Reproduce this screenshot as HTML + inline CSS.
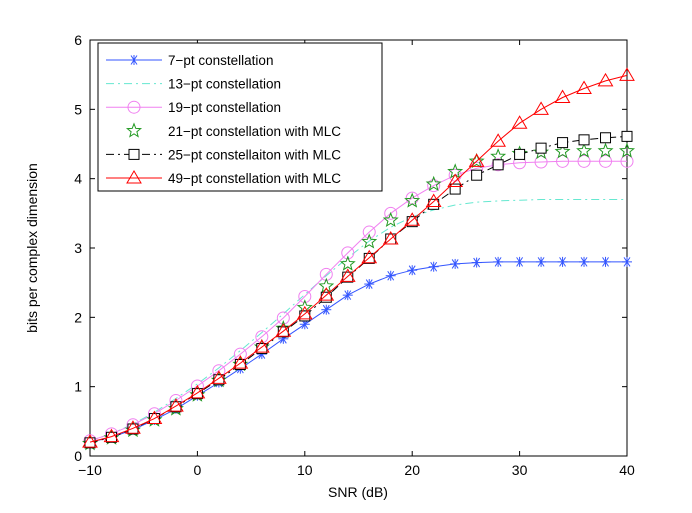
<!DOCTYPE html>
<html><head><meta charset="utf-8"><style>
html,body{margin:0;padding:0;background:#fff;}
svg{display:block;font-family:"Liberation Sans",Arial,sans-serif;}
</style></head><body>
<svg id="chart" width="692" height="513"></svg>
<script>
const snr=[-10,-8,-6,-4,-2,0,2,4,6,8,10,12,14,16,18,20,22,24,26,28,30,32,34,36,38,40];
const s7=[0.2,0.27,0.38,0.52,0.68,0.87,1.06,1.26,1.47,1.69,1.9,2.11,2.32,2.48,2.6,2.68,2.73,2.77,2.79,2.8,2.8,2.8,2.8,2.8,2.8,2.8];
const s13=[0.22,0.32,0.46,0.63,0.83,1.04,1.27,1.52,1.78,2.05,2.33,2.6,2.86,3.1,3.3,3.45,3.55,3.62,3.66,3.68,3.69,3.7,3.7,3.7,3.7,3.7];
const s19=[0.22,0.32,0.45,0.61,0.8,1.01,1.23,1.47,1.72,1.99,2.3,2.62,2.93,3.23,3.5,3.72,3.9,4.05,4.15,4.2,4.23,4.24,4.25,4.25,4.25,4.25];
const s21=[0.18,0.26,0.37,0.52,0.68,0.88,1.09,1.32,1.57,1.84,2.14,2.45,2.77,3.09,3.4,3.68,3.92,4.1,4.25,4.32,4.36,4.38,4.39,4.4,4.4,4.4];
const s25=[0.19,0.27,0.39,0.54,0.71,0.9,1.1,1.32,1.55,1.79,2.02,2.29,2.58,2.85,3.13,3.38,3.63,3.85,4.05,4.2,4.35,4.44,4.52,4.56,4.59,4.61];
const s49=[0.2,0.28,0.4,0.54,0.72,0.91,1.12,1.34,1.57,1.8,2.05,2.32,2.59,2.86,3.13,3.4,3.67,3.96,4.25,4.54,4.8,5.0,5.17,5.3,5.41,5.49];
const xTicks=[-10,0,10,20,30,40];
const yTicks=[0,1,2,3,4,5,6];
const legendLabels=["7\u2212pt constellation","13\u2212pt constellation","19\u2212pt constellation","21\u2212pt constellation with MLC","25\u2212pt constellaiton with MLC","49\u2212pt constellation with MLC"];

const NS="http://www.w3.org/2000/svg";
const svg=document.getElementById('chart');
const L=90,R=627,T=40,B=456;
const X=v=>L+(v+10)/50*(R-L);
const Y=v=>B-v/6*(B-T);
function mk(tag,attrs,parent){const e=document.createElementNS(NS,tag);for(const k in attrs)e.setAttribute(k,attrs[k]);(parent||svg).appendChild(e);return e;}

const frame=mk('rect',{x:L,y:T,width:R-L,height:B-T,fill:'#fff',stroke:'#000','stroke-width':1});



xTicks.forEach(t=>{
  const x=X(t);
  mk('line',{x1:x,y1:B,x2:x,y2:B-5,stroke:'#000'});
  mk('line',{x1:x,y1:T,x2:x,y2:T+5,stroke:'#000'});
  const tx=mk('text',{x:x,y:B+19,'text-anchor':'middle','font-size':14});
  tx.textContent=t<0?'\u2212'+(-t):t;
  
  
});
yTicks.forEach(t=>{
  const y=Y(t);
  mk('line',{x1:L,y1:y,x2:L+5,y2:y,stroke:'#000'});
  mk('line',{x1:R,y1:y,x2:R-5,y2:y,stroke:'#000'});
  const tx=mk('text',{x:L-8,y:y+5,'text-anchor':'end','font-size':14});
  tx.textContent=t;
  
  
});
const xl=mk('text',{x:358,y:497,'text-anchor':'middle','font-size':14});
xl.textContent='SNR (dB)';


const yl=mk('text',{x:0,y:0,'text-anchor':'middle','font-size':14,transform:'translate(37,248) rotate(-90)'});
yl.textContent='bits per complex dimension';



function marker(type,x,y,color,g){
  if(type==='star6'){
    mk('line',{x1:x-5,y1:y,x2:x+5,y2:y,stroke:color},g);
    mk('line',{x1:x-3,y1:y-4.5,x2:x+3,y2:y+4.5,stroke:color},g);
    mk('line',{x1:x-3,y1:y+4.5,x2:x+3,y2:y-4.5,stroke:color},g);
    mk('line',{x1:x,y1:y-5,x2:x,y2:y+5,stroke:color},g);
  }else if(type==='circle'){
    mk('circle',{cx:x,cy:y,r:6,fill:'none',stroke:color},g);
  }else if(type==='pentagram'){
    let p=[];for(let i=0;i<10;i++){const a=-Math.PI/2+i*Math.PI/5;const r=i%2?3:7;p.push((x+r*Math.cos(a)).toFixed(1)+','+(y+r*Math.sin(a)).toFixed(1));}
    mk('polygon',{points:p.join(' '),fill:'none',stroke:color},g);
  }else if(type==='square'){
    mk('rect',{x:x-5,y:y-5,width:10,height:10,fill:'#fff',stroke:color},g);
  }else if(type==='triangle'){
    mk('polygon',{points:`${x},${y-7} ${x-7},${y+5} ${x+7},${y+5}`,fill:'none',stroke:color},g);
  }
}
const series=[
  {d:s7,c:'#3355ff',m:'star6',dash:null,name:'series-7pt'},
  {d:s13,c:'#66e8d0',m:null,dash:'8,4,2,4',name:'series-13pt'},
  {d:s19,c:'#f080f0',m:'circle',dash:null,name:'series-19pt'},
  {d:s21,c:'#229922',m:'pentagram',dash:'none',name:'series-21pt'},
  {d:s25,c:'#000',m:'square',dash:'8,4,2,4',name:'series-25pt'},
  {d:s49,c:'#ff0000',m:'triangle',dash:null,name:'series-49pt'}
];
series.forEach(s=>{
  const g=mk('g',{});
  
  
  if(s.dash!=='none'){
    const pts=snr.map((v,i)=>X(v).toFixed(1)+','+Y(s.d[i]).toFixed(1)).join(' ');
    const a={points:pts,fill:'none',stroke:s.c,'stroke-width':1};
    if(s.dash)a['stroke-dasharray']=s.dash;
    mk('polyline',a,g);
  }
  if(s.m)snr.forEach((v,i)=>marker(s.m,X(v),Y(s.d[i]),s.c,g));
});

const lg=mk('g',{});


mk('rect',{x:98,y:43,width:284,height:148,fill:'#fff',stroke:'#000'},lg);
series.forEach((s,i)=>{
  const y=60+i*23.6;
  const e=mk('g',{},lg);
  
  
  if(s.dash!=='none'){
    const a={x1:106,y1:y,x2:162,y2:y,stroke:s.c};
    if(s.dash)a['stroke-dasharray']=s.dash;
    mk('line',a,e);
  }
  if(s.m)marker(s.m,134,y,s.c,e);
  const t=mk('text',{x:168,y:y+5,'font-size':13.5},e);
  t.textContent=legendLabels[i];
});
</script>
</body></html>
